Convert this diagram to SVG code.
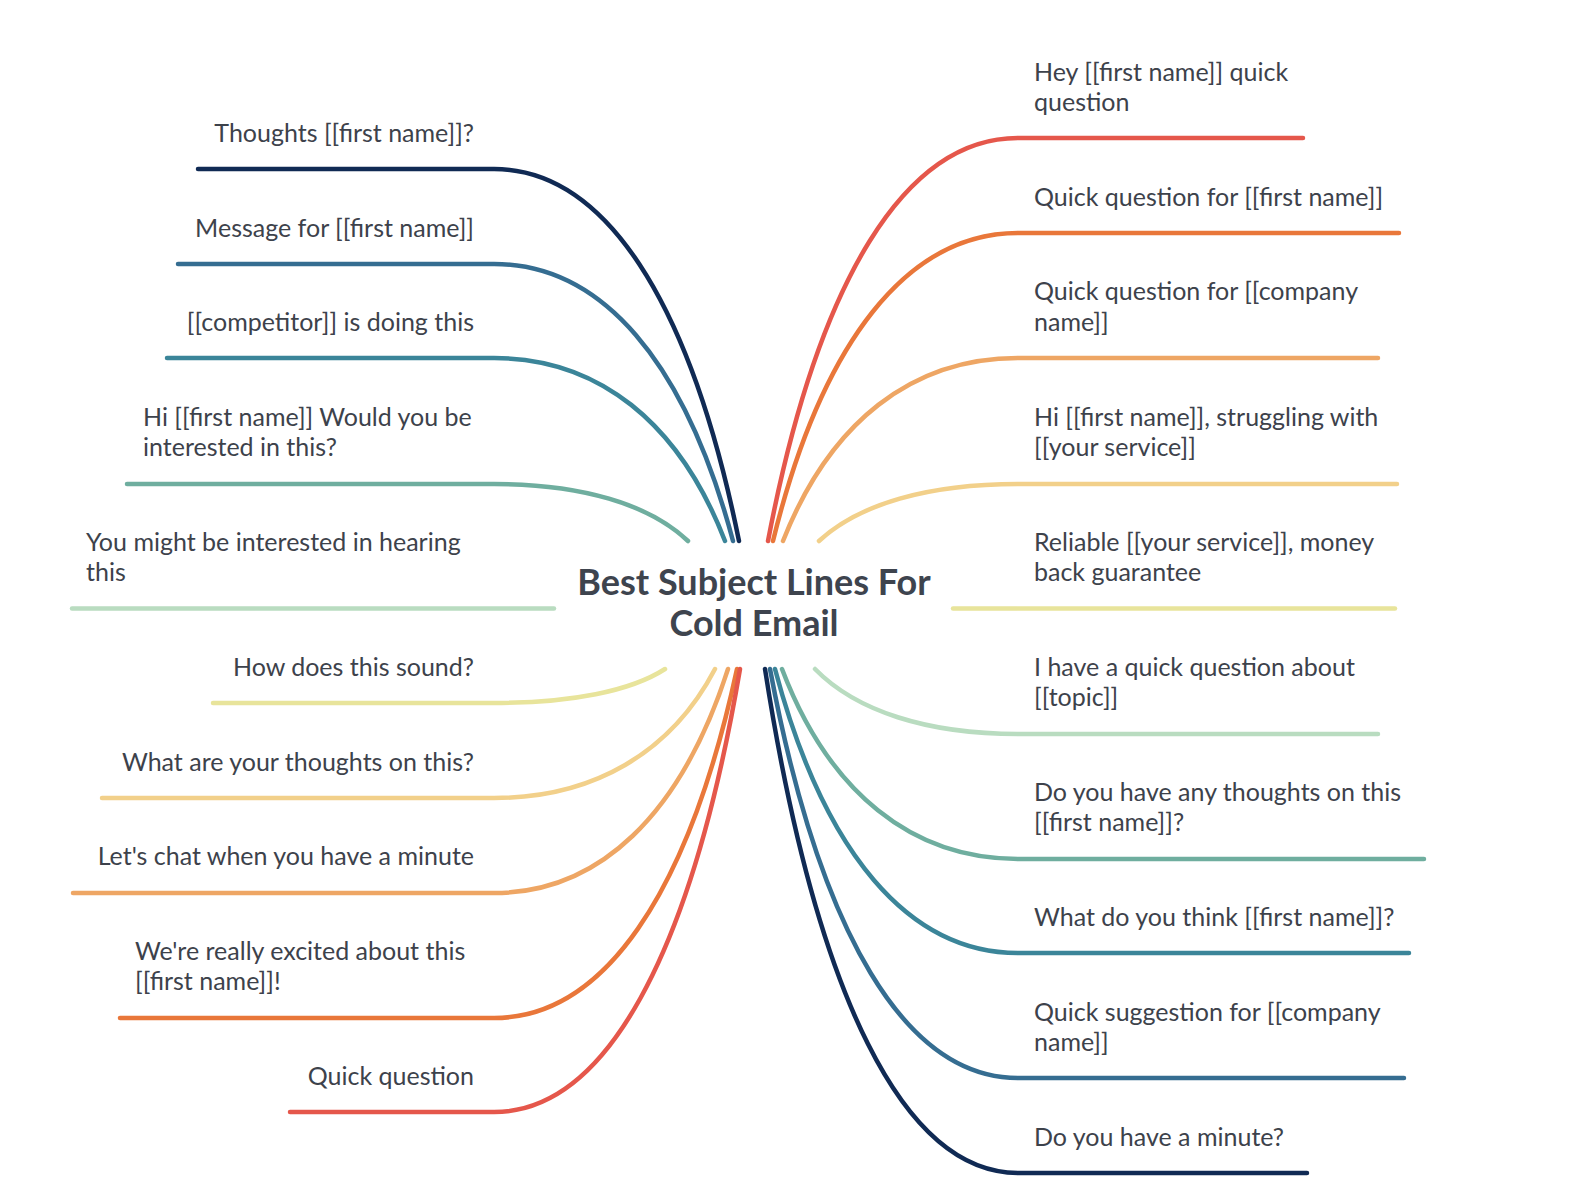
<svg xmlns="http://www.w3.org/2000/svg" width="1580" height="1200" viewBox="0 0 1580 1200">
<style>
.c{fill:none;stroke-width:4.5;stroke-linecap:round}
.t{font-family:Lato,"Open Sans","Liberation Sans",sans-serif;font-size:25px;fill:#3d424b}
.l{text-anchor:end}
.title{font-family:Lato,"Open Sans","Liberation Sans",sans-serif;font-size:36px;font-weight:bold;fill:#3e444e;text-anchor:middle}
</style>
<rect width="1580" height="1200" fill="#ffffff"/>
<g id="connectors">
<path class="c" stroke="#102a54" d="M198 169 H494 C604 169 690 299 739 541"/>
<path class="c" stroke="#356d91" d="M178 264 H494 C601.5 264 685 361 733 541"/>
<path class="c" stroke="#3b8599" d="M167 358 H494 C598 358 679 422 725 541"/>
<path class="c" stroke="#6fae9f" d="M127 484 H494 C581 484 649 504 688 541"/>
<path class="c" stroke="#b9dcc0" d="M72 608.5 H554"/>
<path class="c" stroke="#e8e49b" d="M213 703 H494 C571 703 631 691 665 669"/>
<path class="c" stroke="#f2d08a" d="M102 798 H494 C593 798 671 753 715 669"/>
<path class="c" stroke="#eea664" d="M73 893 H494 C599 893 681 815 728 669"/>
<path class="c" stroke="#e9773a" d="M120 1018 H494 C603 1018 688 896 737 669"/>
<path class="c" stroke="#e5574b" d="M290 1112 H494 C605 1112 691 957 740 669"/>
<path class="c" stroke="#e5574b" d="M768 541 C818 279 905.5 138 1018 138 H1303"/>
<path class="c" stroke="#e9773a" d="M773 541 C822 341 907.75 233 1018 233 H1399"/>
<path class="c" stroke="#eea664" d="M783 541 C830 422 912 358 1018 358 H1378"/>
<path class="c" stroke="#f2d08a" d="M819 541 C859 504 928 484 1018 484 H1397"/>
<path class="c" stroke="#e8e49b" d="M953 608.5 H1395"/>
<path class="c" stroke="#b9dcc0" d="M815 669 C856 711 927 734 1018 734 H1378"/>
<path class="c" stroke="#6fae9f" d="M782 669 C829 792.5 912 859 1018 859 H1424"/>
<path class="c" stroke="#3b8599" d="M775 669 C824 853.6 909 953 1018 953 H1409"/>
<path class="c" stroke="#356d91" d="M770 669 C820 935 906 1078 1018 1078 H1404"/>
<path class="c" stroke="#102a54" d="M765 669 C816 996.6 904 1173 1018 1173 H1307"/>
</g>
<g id="center"><text class="title" x="754" y="595">Best Subject Lines For</text><text class="title" x="754" y="636">Cold Email</text></g>
<g id="l1"><text class="t l" x="474" y="142">Thoughts [[first name]]?</text></g>
<g id="l2"><text class="t l" x="474" y="237">Message for [[first name]]</text></g>
<g id="l3"><text class="t l" x="474" y="331">[[competitor]] is doing this</text></g>
<g id="l4"><text class="t" x="143" y="426">Hi [[first name]] Would you be</text><text class="t" x="143" y="456">interested in this?</text></g>
<g id="l5"><text class="t" x="86" y="551">You might be interested in hearing</text><text class="t" x="86" y="581">this</text></g>
<g id="l6"><text class="t l" x="474" y="676">How does this sound?</text></g>
<g id="l7"><text class="t l" x="474" y="771">What are your thoughts on this?</text></g>
<g id="l8"><text class="t l" x="474" y="865">Let's chat when you have a minute</text></g>
<g id="l9"><text class="t" x="135" y="960">We're really excited about this</text><text class="t" x="135" y="990">[[first name]]!</text></g>
<g id="l10"><text class="t l" x="474" y="1085">Quick question</text></g>
<g id="r1"><text class="t" x="1034" y="81">Hey [[first name]] quick</text><text class="t" x="1034" y="111">question</text></g>
<g id="r2"><text class="t" x="1034" y="206">Quick question for [[first name]]</text></g>
<g id="r3"><text class="t" x="1034" y="300">Quick question for [[company</text><text class="t" x="1034" y="331">name]]</text></g>
<g id="r4"><text class="t" x="1034" y="426">Hi [[first name]], struggling with</text><text class="t" x="1034" y="456">[[your service]]</text></g>
<g id="r5"><text class="t" x="1034" y="551">Reliable [[your service]], money</text><text class="t" x="1034" y="581">back guarantee</text></g>
<g id="r6"><text class="t" x="1034" y="676">I have a quick question about</text><text class="t" x="1034" y="706">[[topic]]</text></g>
<g id="r7"><text class="t" x="1034" y="801">Do you have any thoughts on this</text><text class="t" x="1034" y="831">[[first name]]?</text></g>
<g id="r8"><text class="t" x="1034" y="926">What do you think [[first name]]?</text></g>
<g id="r9"><text class="t" x="1034" y="1021">Quick suggestion for [[company</text><text class="t" x="1034" y="1051">name]]</text></g>
<g id="r10"><text class="t" x="1034" y="1146">Do you have a minute?</text></g>
</svg>
